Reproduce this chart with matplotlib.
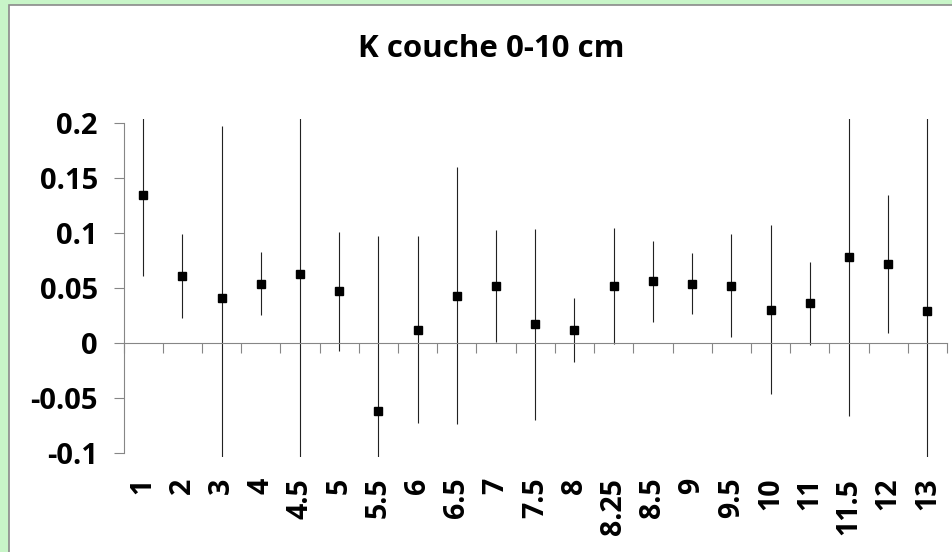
import matplotlib
matplotlib.use('Agg')
import matplotlib.pyplot as plt
from matplotlib.patches import Rectangle
import numpy as np

plt.rcParams['font.family'] = ['Open Sans', 'DejaVu Sans']
plt.rcParams['font.weight'] = 'bold'

# data
labels = ['1', '2', '3', '4', '4.5', '5', '5.5', '6', '6.5', '7', '7.5',
          '8', '8.25', '8.5', '9', '9.5', '10', '11', '11.5', '12', '13']
k_vals = [0.135, 0.061, 0.041, 0.054, 0.063, 0.047, -0.062, 0.012, 0.043, 0.052, 0.017,
          0.012, 0.052, 0.056, 0.054, 0.052, 0.030, 0.036, 0.078, 0.072, 0.029]
k_err = [0.074, 0.038, 0.157, 0.029, 0.2, 0.054, 0.159, 0.085, 0.117, 0.051, 0.087,
         0.029, 0.053, 0.037, 0.028, 0.047, 0.077, 0.038, 0.145, 0.063, 0.2]

fig = plt.figure(figsize=(9.53, 5.52), dpi=100)
fig.patch.set_facecolor('#c8f5c8')
# white chart panel, runs off the right and bottom edges
panel = Rectangle((9 / 953, -0.05), 1.1, 1.05 - 5 / 552, transform=fig.transFigure,
                  facecolor='white', edgecolor='#8a8a8a', linewidth=1.2, zorder=-1)
fig.add_artist(panel)

ax = fig.add_axes([0.1296, 0.1721, 0.8641, 0.6123])
ax.set_zorder(2)
ax.set_facecolor('none')
x = np.arange(len(labels))
ax.errorbar(x, k_vals, yerr=k_err, fmt='s', color='black', ms=5.5,
            ecolor='#222222', elinewidth=0.8, capsize=0)

ax.set_xlim(-0.5, len(labels) - 0.5)
ax.set_ylim(-0.104, 0.204)
ax.set_yticks([-0.1, -0.05, 0, 0.05, 0.1, 0.15, 0.2])
ax.set_yticklabels(['-0.1', '-0.05', '0', '0.05', '0.1', '0.15', '0.2'])
ax.tick_params(axis='y', length=7.5, width=0.8, color='#868686', pad=11, labelsize=21)

for s in ['top', 'right']:
    ax.spines[s].set_visible(False)
ax.spines['left'].set_bounds(-0.1, 0.2)
ax.spines['left'].set_color('#868686')
ax.spines['left'].set_linewidth(0.8)
# x axis line crosses at zero, ticks between categories
ax.spines['bottom'].set_position(('data', 0))
ax.spines['bottom'].set_color('#868686')
ax.spines['bottom'].set_linewidth(0.8)
ax.set_xticks(np.arange(len(labels) + 1) - 0.5)
ax.tick_params(axis='x', length=7.5, width=0.8, color='#868686', labelbottom=False)

# category labels at the bottom of the plot area
sec = ax.secondary_xaxis('bottom')
sec.set_xticks(x)
sec.set_xticklabels(labels, rotation=90, va='top', ha='center')
sec.tick_params(length=0, pad=15, labelsize=20.5)
sec.spines['bottom'].set_visible(False)

fig.text(0.515, 0.911, 'K couche 0-10 cm', ha='center', va='center', fontsize=22.5, fontweight='bold')

fig.savefig('out.png', dpi=100, facecolor=fig.get_facecolor())
